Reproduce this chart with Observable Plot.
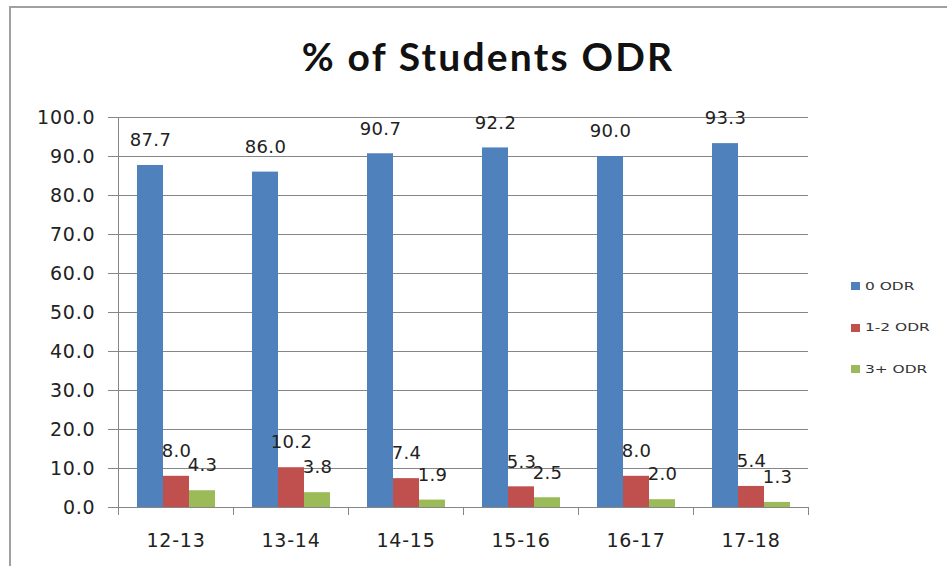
<!DOCTYPE html>
<html><head><meta charset="utf-8">
<script src="https://cdn.jsdelivr.net/npm/d3@7"></script>
<script src="https://cdn.jsdelivr.net/npm/@observablehq/plot@0.6"></script>
<style>
body{margin:0;background:#fff;width:947px;height:566px;position:relative;overflow:hidden;font-family:"DejaVu Sans",sans-serif;}
#frame{position:absolute;left:9px;top:6px;width:960px;height:600px;border-top:2px solid #a0a0a0;border-left:2px solid #a0a0a0;pointer-events:none;}
#title{height:100px;width:976px;text-align:center;font-family:Lato,"Open Sans",sans-serif;font-weight:700;font-size:39px;letter-spacing:2.2px;line-height:1;box-sizing:border-box;color:#111;}
#title span{display:inline-block;margin-top:37px;}
#legend{position:absolute;left:851px;top:280px;font-family:"DejaVu Sans",sans-serif;font-size:11px;color:#333;}
#legend .item{display:flex;align-items:center;height:12px;margin-bottom:29.5px;}
#legend .sw{width:9px;height:8px;margin-right:5px;}
#legend span{display:inline-block;transform:scaleX(1.4);transform-origin:left center;}
svg text{letter-spacing:0.8px;}
svg g.labels text{letter-spacing:0.3px;}
</style>
</head><body>
<div id="title"><span>% of Students ODR</span></div>
<div id="chart"></div>
<div id="legend"></div>
<div id="frame"></div>
<script>
const categories = ["12-13","13-14","14-15","15-16","16-17","17-18"];
const series = ["0 ODR","1-2 ODR","3+ ODR"];
const zeroODR = [87.7,86.0,90.7,92.2,90.0,93.3];
const oneTwoODR = [8.0,10.2,7.4,5.3,8.0,5.4];
const threePlusODR = [4.3,3.8,1.9,2.5,2.0,1.3];
const yTicks = [0,10,20,30,40,50,60,70,80,90,100];
const colors = ["#4F81BD","#C0504D","#9BBB59"];

const seriesValues = [zeroODR, oneTwoODR, threePlusODR];
const data = [];
categories.forEach((c,i)=>series.forEach((s,j)=>data.push({category:c, series:s, value:seriesValues[j][i]})));

const W=947, H=466, mt=17, mb=59, ml=118, mr=139;
const plotH = H-mt-mb;
const gray = "#868686";
const chart = Plot.plot({
  width:W, height:H, marginTop:mt, marginBottom:mb, marginLeft:ml, marginRight:mr,
  style:{fontFamily:"DejaVu Sans", fontSize:"19px", color:"#222", background:"transparent"},
  fx:{domain:categories, padding:0, label:null},
  x:{domain:series, paddingInner:0, paddingOuter:0.71, axis:null},
  y:{domain:[0,100], label:null},
  color:{domain:series, range:colors},
  marks:[
    Plot.gridY(yTicks, {stroke:gray, strokeOpacity:1}),
    Plot.axisY(yTicks, {tickSize:10, tickPadding:13, tickFormat:d=>d.toFixed(1), stroke:gray, fontSize:19, label:null}),
    Plot.axisFx({anchor:"bottom", tickSize:0, tickPadding:26, fontSize:19, label:null}),
    Plot.barY(data, {fx:"category", x:"series", y:"value", fill:"series"}),
    Plot.ruleY([0], {stroke:gray}),
    Plot.frame({anchor:"left", stroke:gray, insetTop:plotH, insetBottom:-7}),
    Plot.frame({anchor:"left", stroke:gray, insetBottom:-7, facetAnchor:"left"}),
    Plot.frame({anchor:"right", stroke:gray, insetTop:plotH, insetBottom:-7, facetAnchor:"right"}),
    Plot.text(data, {fx:"category", x:"series", y:"value", text:d=>d.value.toFixed(1), dy:-25, fontSize:18, fill:"#222", className:"labels"})
  ]
});
document.getElementById("chart").appendChild(chart);

const color = chart.scale("color");
const legend = document.getElementById("legend");
series.forEach(s=>{
  const item = document.createElement("div"); item.className="item";
  const sw = document.createElement("div"); sw.className="sw"; sw.style.background = color.apply(s);
  const t = document.createElement("span"); t.textContent = s;
  item.appendChild(sw); item.appendChild(t); legend.appendChild(item);
});
</script>
</body></html>
